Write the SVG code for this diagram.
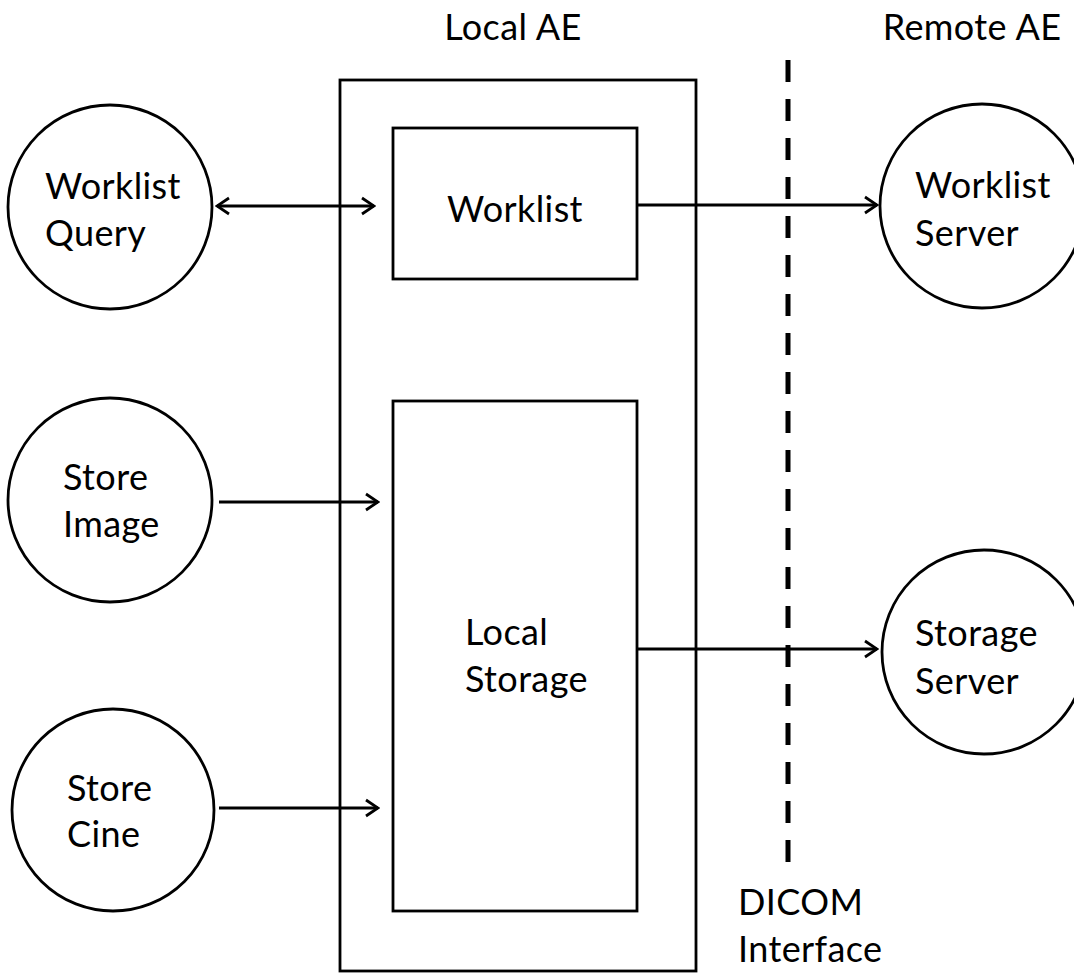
<svg xmlns="http://www.w3.org/2000/svg" width="1074" height="973" viewBox="0 0 1074 973">
<style>
  .shape { fill: none; stroke: #000; stroke-width: 2.8; }
  .lbl { font-family: Lato, "Open Sans", "Liberation Sans", sans-serif; font-size: 36px; letter-spacing: 0.4px; fill: #000; }
  .conn { stroke: #000; stroke-width: 2.8; fill: none; }
</style>
<defs>
  <marker id="arr" markerUnits="userSpaceOnUse" markerWidth="16" markerHeight="20" viewBox="0 0 16 20" refX="14" refY="10" orient="auto-start-reverse">
    <path d="M2,2 L14,10 L2,18" fill="none" stroke="#000" stroke-width="2.8"/>
  </marker>
</defs>
<rect width="1074" height="973" fill="#fff"/>

<g id="header-local">
  <text class="lbl" x="513" y="40" text-anchor="middle">Local AE</text>
</g>
<g id="header-remote">
  <text class="lbl" x="972" y="40" text-anchor="middle">Remote AE</text>
</g>

<g id="local-ae">
  <rect class="shape" x="340" y="80" width="356" height="891"/>
</g>

<g id="worklist">
  <rect class="shape" x="393" y="128" width="244" height="151"/>
  <text class="lbl" x="515" y="222" text-anchor="middle">Worklist</text>
</g>

<g id="local-storage">
  <rect class="shape" x="393" y="401" width="244" height="510"/>
  <text class="lbl" x="465" y="645">Local</text>
  <text class="lbl" x="465" y="692">Storage</text>
</g>

<g id="worklist-query">
  <circle class="shape" cx="110" cy="207" r="102"/>
  <text class="lbl" x="45" y="199">Worklist</text>
  <text class="lbl" x="45" y="246">Query</text>
</g>

<g id="store-image">
  <circle class="shape" cx="110" cy="500" r="102"/>
  <text class="lbl" x="63" y="490">Store</text>
  <text class="lbl" x="63" y="537">Image</text>
</g>

<g id="store-cine">
  <circle class="shape" cx="113" cy="810" r="101"/>
  <text class="lbl" x="67" y="801">Store</text>
  <text class="lbl" x="67" y="847">Cine</text>
</g>

<g id="worklist-server">
  <circle class="shape" cx="982" cy="206" r="102"/>
  <text class="lbl" x="915" y="198">Worklist</text>
  <text class="lbl" x="915" y="246">Server</text>
</g>

<g id="storage-server">
  <circle class="shape" cx="984" cy="652" r="102"/>
  <text class="lbl" x="915" y="646">Storage</text>
  <text class="lbl" x="915" y="694">Server</text>
</g>

<g id="dicom-interface">
  <line x1="788" y1="60" x2="788" y2="870" stroke="#000" stroke-width="5" stroke-dasharray="22 17"/>
  <text class="lbl" x="738" y="915">DICOM</text>
  <text class="lbl" x="738" y="962">Interface</text>
</g>

<g id="connectors">
  <line class="conn" x1="217" y1="206" x2="374" y2="206" marker-start="url(#arr)" marker-end="url(#arr)"/>
  <line class="conn" x1="219" y1="502" x2="378" y2="502" marker-end="url(#arr)"/>
  <line class="conn" x1="219" y1="808" x2="378" y2="808" marker-end="url(#arr)"/>
  <line class="conn" x1="637" y1="205" x2="877" y2="205" marker-end="url(#arr)"/>
  <line class="conn" x1="637" y1="649" x2="877" y2="649" marker-end="url(#arr)"/>
</g>
</svg>
